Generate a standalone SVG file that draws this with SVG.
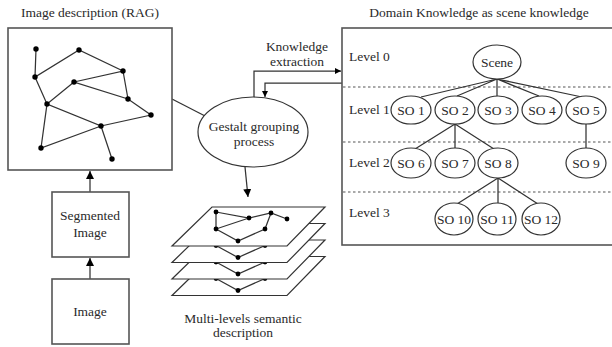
<svg xmlns="http://www.w3.org/2000/svg" width="612" height="347" viewBox="0 0 612 347" font-family="Liberation Serif, DejaVu Serif, serif">
<style>
text{font-size:13.5px;fill:#2a2a2a}
.c{text-anchor:middle}
.box{fill:#fff;stroke:#555;stroke-width:1.6}
.ln{stroke:#333;stroke-width:1.25;fill:none}
.el{fill:#fff;stroke:#333;stroke-width:1.2}
.dash{stroke:#555;stroke-width:1.2;stroke-dasharray:2.5,2.5}
.dot{fill:#000}
.pl{fill:#fff;stroke:#333;stroke-width:1.2}
</style>
<defs>
<marker id="ah" viewBox="0 0 10 10" refX="10" refY="5" markerWidth="8" markerHeight="8" orient="auto" markerUnits="userSpaceOnUse">
<path d="M0,0 L10,5 L0,10 Z" fill="#000"/>
</marker>
<marker id="ahs" viewBox="0 0 10 10" refX="10" refY="5" markerWidth="6" markerHeight="6" orient="auto" markerUnits="userSpaceOnUse">
<path d="M0,0 L10,5 L0,10 Z" fill="#000"/>
</marker>
<g id="plgraph">
<path class="ln" d="M216,212 L249,218 L271,213 L287,219 M216,212 L216,229 L249,218 M271,213 L265,229 L238,241 L216,229"/>
<circle class="dot" cx="216" cy="212" r="2.4"/>
<circle class="dot" cx="249" cy="218" r="2.4"/>
<circle class="dot" cx="271" cy="213" r="2.4"/>
<circle class="dot" cx="287" cy="219" r="2.4"/>
<circle class="dot" cx="216" cy="229" r="2.4"/>
<circle class="dot" cx="265" cy="229" r="2.4"/>
<circle class="dot" cx="238" cy="241" r="2.4"/>
</g>
</defs>
<rect width="612" height="347" fill="#fff"/>

<text x="21" y="17">Image description (RAG)</text>
<text class="c" x="479" y="17">Domain Knowledge as scene knowledge</text>

<g id="connectors">
<line class="ln" x1="172" y1="99" x2="207" y2="117"/>
<line class="ln" x1="90" y1="192" x2="90" y2="171" marker-end="url(#ah)"/>
<line class="ln" x1="90" y1="279" x2="90" y2="258" marker-end="url(#ah)"/>
<line class="ln" x1="245" y1="167" x2="248" y2="197" marker-end="url(#ah)"/>
<path class="ln" d="M254,98 V71 H341" marker-end="url(#ahs)"/>
<path class="ln" d="M342,83 H265 V97" marker-end="url(#ahs)"/>
</g>

<g id="rag">
<rect class="box" x="8" y="28" width="164" height="142"/>
<path class="ln" d="M36,49 L35,77 L79,50 L123,71 L74,82 L128,99 L151,115 L101,126 L41,148 L47,104 L35,77 M123,71 L128,99 M74,82 L47,104 L101,126 L112,159"/>
<g class="dot">
<circle cx="36" cy="49" r="2.7"/><circle cx="79" cy="50" r="2.7"/><circle cx="35" cy="77" r="2.7"/>
<circle cx="123" cy="71" r="2.7"/><circle cx="74" cy="82" r="2.7"/><circle cx="128" cy="99" r="2.7"/>
<circle cx="47" cy="104" r="2.7"/><circle cx="151" cy="115" r="2.7"/><circle cx="101" cy="126" r="2.7"/>
<circle cx="41" cy="148" r="2.7"/><circle cx="112" cy="159" r="2.7"/>
</g>
</g>

<g id="segmented">
<rect class="box" x="52" y="192" width="77" height="65"/>
<text class="c" x="90" y="220">Segmented</text>
<text class="c" x="90" y="237">Image</text>
</g>

<g id="image">
<rect class="box" x="52" y="279" width="77" height="65"/>
<text class="c" x="90" y="316">Image</text>
</g>

<g id="gestalt">
<ellipse class="el" cx="253" cy="132" rx="55" ry="35"/>
<text class="c" x="254" y="131">Gestalt grouping</text>
<text class="c" x="254" y="146">process</text>
</g>

<g id="knowledge-label">
<text class="c" x="297" y="51">Knowledge</text>
<text class="c" x="297" y="66">extraction</text>
</g>

<g id="multilevel">
<g transform="translate(0,49.5)"><polygon class="pl" points="212,207 325,207 287,246 172,246"/><use href="#plgraph"/></g>
<g transform="translate(0,33)"><polygon class="pl" points="212,207 325,207 287,246 172,246"/><use href="#plgraph"/></g>
<g transform="translate(0,16.5)"><polygon class="pl" points="212,207 325,207 287,246 172,246"/><use href="#plgraph"/></g>
<g><polygon class="pl" points="212,207 325,207 287,246 172,246"/><use href="#plgraph"/></g>
<text class="c" x="243" y="323">Multi-levels semantic</text>
<text class="c" x="243" y="337">description</text>
</g>

<g id="domain">
<rect class="box" x="342" y="28" width="280" height="217"/>
<line class="dash" x1="343" y1="87" x2="612" y2="87"/>
<line class="dash" x1="343" y1="142" x2="612" y2="142"/>
<line class="dash" x1="343" y1="192" x2="612" y2="192"/>
<text x="349" y="61">Level 0</text>
<text x="349" y="114">Level 1</text>
<text x="349" y="167">Level 2</text>
<text x="349" y="217">Level 3</text>
</g>

<g id="tree-links">
<path class="ln" d="M497,79 L421,97 M497,79 L457,96 M497,79 L497,96 M497,79 L539,96 M497,79 L582,97 M455,124 L415,149 M455,124 L455,148 M455,124 L494,149 M586,124 L586,148 M498,178 L457,204 M498,178 L498,203 M498,178 L538,204"/>
</g>

<g id="scene"><ellipse class="el" cx="497" cy="62" rx="24" ry="17"/><text class="c" x="497" y="67">Scene</text></g>
<g id="so1"><ellipse class="el" cx="411" cy="110" rx="20" ry="14"/><text class="c" x="411" y="115">SO 1</text></g>
<g id="so2"><ellipse class="el" cx="455" cy="110" rx="20" ry="14"/><text class="c" x="455" y="115">SO 2</text></g>
<g id="so3"><ellipse class="el" cx="498" cy="110" rx="20" ry="14"/><text class="c" x="498" y="115">SO 3</text></g>
<g id="so4"><ellipse class="el" cx="542" cy="110" rx="20" ry="14"/><text class="c" x="542" y="115">SO 4</text></g>
<g id="so5"><ellipse class="el" cx="586" cy="110" rx="20" ry="14"/><text class="c" x="586" y="115">SO 5</text></g>
<g id="so6"><ellipse class="el" cx="411" cy="163" rx="20" ry="15"/><text class="c" x="411" y="168">SO 6</text></g>
<g id="so7"><ellipse class="el" cx="455" cy="163" rx="20" ry="15"/><text class="c" x="455" y="168">SO 7</text></g>
<g id="so8"><ellipse class="el" cx="498" cy="163" rx="20" ry="15"/><text class="c" x="498" y="168">SO 8</text></g>
<g id="so9"><ellipse class="el" cx="586" cy="163" rx="20" ry="15"/><text class="c" x="586" y="168">SO 9</text></g>
<g id="so10"><ellipse class="el" cx="454" cy="219" rx="19" ry="16"/><text class="c" x="454" y="224">SO 10</text></g>
<g id="so11"><ellipse class="el" cx="497" cy="219" rx="19" ry="16"/><text class="c" x="497" y="224">SO 11</text></g>
<g id="so12"><ellipse class="el" cx="541" cy="219" rx="19" ry="16"/><text class="c" x="541" y="224">SO 12</text></g>
</svg>
